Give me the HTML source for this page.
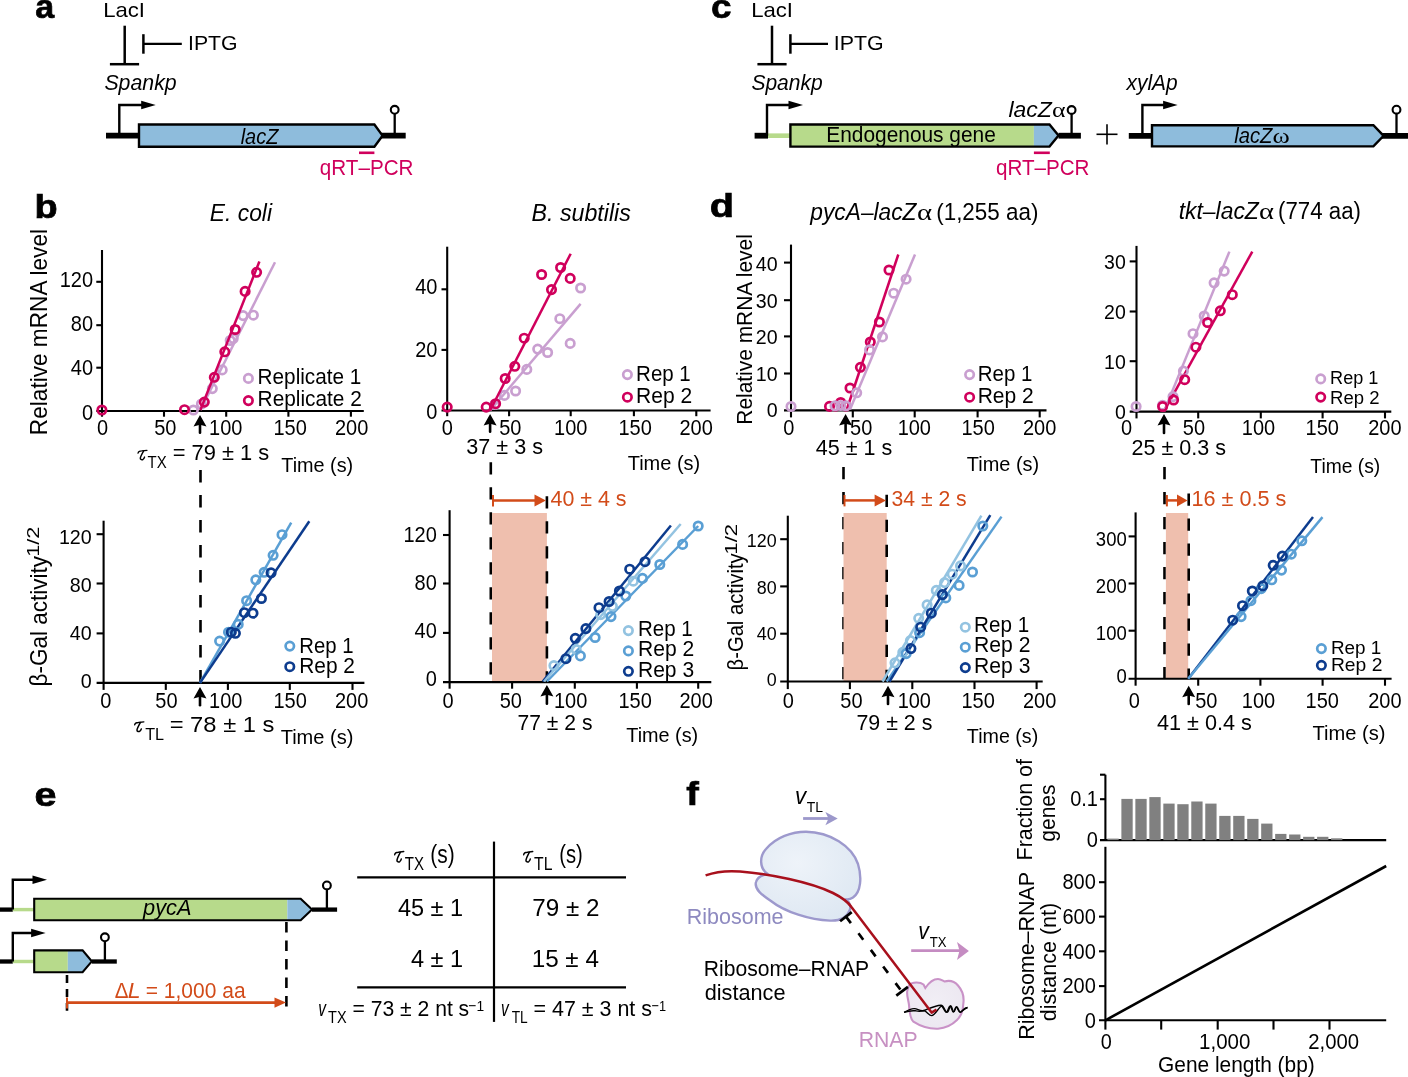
<!DOCTYPE html>
<html><head><meta charset="utf-8"><title>Figure</title>
<style>html,body{margin:0;padding:0;background:#fff;} svg{display:block;will-change:transform;}</style></head>
<body><svg width="1408" height="1077" viewBox="0 0 1408 1077">
<rect width="1408" height="1077" fill="#fff"/>
<text transform="translate(35.36 18.20) scale(1.029 1)" font-family="Liberation Sans" font-weight="bold" font-size="33" fill="#000" stroke="#000" stroke-width="0.7">a</text>
<text transform="translate(103.18 17.00) scale(1.1357 1.06)" font-family="Liberation Sans" font-size="19.50" fill="#000" >LacI</text>
<line x1="124.70" y1="25.70" x2="124.70" y2="63.50" stroke="#000" stroke-width="2.5" />
<line x1="109.90" y1="64.20" x2="139.10" y2="64.20" stroke="#000" stroke-width="2.5" />
<line x1="143.40" y1="34.20" x2="143.40" y2="53.70" stroke="#000" stroke-width="2.5" />
<line x1="143.40" y1="43.80" x2="181.80" y2="43.80" stroke="#000" stroke-width="2.3" />
<text transform="translate(188.04 50.00) scale(1.0888 1.06)" font-family="Liberation Sans" font-size="19.50" fill="#000" >IPTG</text>
<text transform="translate(104.40 89.50) scale(1.0397 1.06)" font-family="Liberation Sans" font-size="20.50" font-style="italic" fill="#000" >Spankp</text>
<line x1="106.00" y1="135.70" x2="405.70" y2="135.70" stroke="#000" stroke-width="5.8" />
<path d="M119.30,135.70 V105.00 H142.70" stroke="#000" stroke-width="2.4" fill="none" stroke-linejoin="miter"/>
<polygon points="141.20,100.70 155.70,105.00 141.20,109.30" fill="#000" stroke="none" stroke-width="0" />
<polygon points="139.00,124.50 374.40,124.50 382.50,135.65 374.40,146.80 139.00,146.80" fill="#8ebcdc" stroke="none" stroke-width="0" />
<polygon points="139.00,124.50 374.40,124.50 382.50,135.65 374.40,146.80 139.00,146.80" fill="none" stroke="#000" stroke-width="2.4" stroke-linejoin="miter"/>
<line x1="394.70" y1="135.70" x2="394.70" y2="113.80" stroke="#000" stroke-width="2.3" />
<circle cx="394.70" cy="109.80" r="3.90" stroke="#000" stroke-width="2.1" fill="#fff"/>
<text transform="translate(240.68 143.60) scale(0.9752 1.06)" font-family="Liberation Sans" font-size="20.50" font-style="italic" fill="#000" >lacZ</text>
<line x1="359.00" y1="152.80" x2="374.40" y2="152.80" stroke="#d0005c" stroke-width="2.6" />
<text transform="translate(319.83 174.50) scale(1.0076 1.06)" font-family="Liberation Sans" font-size="20.50" fill="#d0005c" >qRT–PCR</text>
<text transform="translate(710.91 18.20) scale(1.118 1)" font-family="Liberation Sans" font-weight="bold" font-size="33" fill="#000" stroke="#000" stroke-width="0.7">c</text>
<text transform="translate(751.18 17.00) scale(1.1357 1.06)" font-family="Liberation Sans" font-size="19.50" fill="#000" >LacI</text>
<line x1="772.00" y1="25.70" x2="772.00" y2="63.50" stroke="#000" stroke-width="2.5" />
<line x1="757.40" y1="64.20" x2="786.60" y2="64.20" stroke="#000" stroke-width="2.5" />
<line x1="790.40" y1="34.20" x2="790.40" y2="53.70" stroke="#000" stroke-width="2.5" />
<line x1="790.40" y1="43.80" x2="828.00" y2="43.80" stroke="#000" stroke-width="2.3" />
<text transform="translate(833.73 50.00) scale(1.0959 1.06)" font-family="Liberation Sans" font-size="19.50" fill="#000" >IPTG</text>
<text transform="translate(751.40 89.50) scale(1.0251 1.06)" font-family="Liberation Sans" font-size="20.50" font-style="italic" fill="#000" >Spankp</text>
<line x1="754.60" y1="135.70" x2="768.00" y2="135.70" stroke="#000" stroke-width="5.8" />
<line x1="768.00" y1="135.70" x2="790.40" y2="135.70" stroke="#b7da8b" stroke-width="4.64" />
<line x1="1058.50" y1="135.70" x2="1080.90" y2="135.70" stroke="#000" stroke-width="5.8" />
<path d="M767.00,135.70 V105.00 H790.00" stroke="#000" stroke-width="2.4" fill="none" stroke-linejoin="miter"/>
<polygon points="788.50,100.70 803.00,105.00 788.50,109.30" fill="#000" stroke="none" stroke-width="0" />
<polygon points="790.40,124.50 1033.90,124.50 1033.90,146.60 790.40,146.60" fill="#b7da8b" stroke="none" stroke-width="0" />
<polygon points="1033.90,124.50 1049.50,124.50 1058.50,135.55 1049.50,146.60 1033.90,146.60" fill="#8ebcdc" stroke="none" stroke-width="0" />
<polygon points="790.40,124.50 1049.50,124.50 1058.50,135.55 1049.50,146.60 790.40,146.60" fill="none" stroke="#000" stroke-width="2.4" stroke-linejoin="miter"/>
<line x1="1071.60" y1="135.70" x2="1071.60" y2="114.00" stroke="#000" stroke-width="2.3" />
<circle cx="1071.60" cy="110.00" r="3.90" stroke="#000" stroke-width="2.1" fill="#fff"/>
<text transform="translate(826.29 141.60) scale(1.0193 1.06)" font-family="Liberation Sans" font-size="20.50" fill="#000" >Endogenous gene</text>
<text transform="translate(1008.43 116.80) scale(1.1214 1.06)" font-family="Liberation Sans" font-size="20.50" font-style="italic" fill="#000" >lacZ</text>
<text transform="translate(1052.01 116.80) scale(1.2332 1.0)" font-family="Liberation Serif" font-size="21.00" fill="#000" >α</text>
<line x1="1033.90" y1="152.80" x2="1049.80" y2="152.80" stroke="#d0005c" stroke-width="2.6" />
<text transform="translate(995.93 174.50) scale(1.0066 1.06)" font-family="Liberation Sans" font-size="20.50" fill="#d0005c" >qRT–PCR</text>
<line x1="1096.50" y1="134.30" x2="1117.50" y2="134.30" stroke="#000" stroke-width="1.6" />
<line x1="1107.00" y1="124.30" x2="1107.00" y2="144.50" stroke="#000" stroke-width="1.6" />
<text transform="translate(1126.54 89.80) scale(1.0201 1.06)" font-family="Liberation Sans" font-size="20.50" font-style="italic" fill="#000" >xylAp</text>
<line x1="1128.80" y1="135.90" x2="1410.00" y2="135.90" stroke="#000" stroke-width="5.8" />
<path d="M1142.40,135.90 V105.00 H1164.60" stroke="#000" stroke-width="2.4" fill="none" stroke-linejoin="miter"/>
<polygon points="1163.10,100.70 1177.60,105.00 1163.10,109.30" fill="#000" stroke="none" stroke-width="0" />
<polygon points="1152.00,125.20 1373.40,125.20 1383.60,135.80 1373.40,146.40 1152.00,146.40" fill="#8ebcdc" stroke="none" stroke-width="0" />
<polygon points="1152.00,125.20 1373.40,125.20 1383.60,135.80 1373.40,146.40 1152.00,146.40" fill="none" stroke="#000" stroke-width="2.4" stroke-linejoin="miter"/>
<line x1="1396.50" y1="135.90" x2="1396.50" y2="113.70" stroke="#000" stroke-width="2.3" />
<circle cx="1396.50" cy="109.70" r="3.90" stroke="#000" stroke-width="2.1" fill="#fff"/>
<text transform="translate(1234.17 142.60) scale(0.9880 1.06)" font-family="Liberation Sans" font-size="20.50" font-style="italic" fill="#000" >lacZ</text>
<text transform="translate(1272.48 142.60) scale(1.2478 1.0)" font-family="Liberation Serif" font-size="21.00" fill="#000" >ω</text>
<text transform="translate(34.55 217.90) scale(1.149 1)" font-family="Liberation Sans" font-weight="bold" font-size="33" fill="#000" stroke="#000" stroke-width="0.7">b</text>
<text transform="translate(709.72 217.30) scale(1.203 1)" font-family="Liberation Sans" font-weight="bold" font-size="33" fill="#000" stroke="#000" stroke-width="0.7">d</text>
<text transform="translate(209.80 221.30) scale(1.0381 1.06)" font-family="Liberation Sans" font-size="22.00" font-style="italic" fill="#000" >E. coli</text>
<text transform="translate(531.49 221.30) scale(1.0557 1.06)" font-family="Liberation Sans" font-size="22.00" font-style="italic" fill="#000" >B. subtilis</text>
<text transform="translate(810.37 219.50) scale(1.0340 1.06)" font-family="Liberation Sans" font-size="22.00" font-style="italic" fill="#000" >pycA–lacZ</text>
<text transform="translate(917.01 219.50) scale(1.2757 1.0)" font-family="Liberation Serif" font-size="22.50" fill="#000" >α</text>
<text transform="translate(936.21 219.50) scale(1.0189 1.06)" font-family="Liberation Sans" font-size="22.00" fill="#000" >(1,255 aa)</text>
<text transform="translate(1178.66 219.40) scale(1.0413 1.06)" font-family="Liberation Sans" font-size="22.00" font-style="italic" fill="#000" >tkt–lacZ</text>
<text transform="translate(1259.12 219.40) scale(1.2661 1.0)" font-family="Liberation Serif" font-size="22.50" fill="#000" >α</text>
<text transform="translate(1278.02 219.40) scale(1.0125 1.06)" font-family="Liberation Sans" font-size="22.00" fill="#000" >(774 aa)</text>
<line x1="102.00" y1="250.00" x2="102.00" y2="416.70" stroke="#000" stroke-width="2.1" />
<line x1="96.30" y1="411.00" x2="363.80" y2="411.00" stroke="#000" stroke-width="2.1" />
<line x1="164.00" y1="411.00" x2="164.00" y2="416.70" stroke="#000" stroke-width="2.1" />
<line x1="226.20" y1="411.00" x2="226.20" y2="416.70" stroke="#000" stroke-width="2.1" />
<line x1="288.40" y1="411.00" x2="288.40" y2="416.70" stroke="#000" stroke-width="2.1" />
<line x1="350.90" y1="411.00" x2="350.90" y2="416.70" stroke="#000" stroke-width="2.1" />
<line x1="96.30" y1="281.80" x2="102.00" y2="281.80" stroke="#000" stroke-width="2.1" />
<line x1="96.30" y1="325.20" x2="102.00" y2="325.20" stroke="#000" stroke-width="2.1" />
<line x1="96.30" y1="367.70" x2="102.00" y2="367.70" stroke="#000" stroke-width="2.1" />
<text transform="translate(96.94 435.40) scale(1 1.06)" font-family="Liberation Sans" font-size="20.00" fill="#000" >0</text>
<text transform="translate(154.17 435.40) scale(1 1.06)" font-family="Liberation Sans" font-size="20.00" fill="#000" >50</text>
<text transform="translate(209.04 435.40) scale(1 1.06)" font-family="Liberation Sans" font-size="20.00" fill="#000" >100</text>
<text transform="translate(273.44 435.40) scale(1 1.06)" font-family="Liberation Sans" font-size="20.00" fill="#000" >150</text>
<text transform="translate(335.00 435.40) scale(1 1.06)" font-family="Liberation Sans" font-size="20.00" fill="#000" >200</text>
<text transform="translate(59.71 286.58) scale(1 1.06)" font-family="Liberation Sans" font-size="20.00" fill="#000" >120</text>
<text transform="translate(70.84 331.18) scale(1 1.06)" font-family="Liberation Sans" font-size="20.00" fill="#000" >80</text>
<text transform="translate(70.84 375.18) scale(1 1.06)" font-family="Liberation Sans" font-size="20.00" fill="#000" >40</text>
<text transform="translate(81.96 420.28) scale(1 1.06)" font-family="Liberation Sans" font-size="20.00" fill="#000" >0</text>
<text transform="translate(46.90 433.30) rotate(-90) scale(1.0012 1.06)" x="-1.85" y="0" font-family="Liberation Sans" font-size="22.60" fill="#000" >Relative mRNA level</text>
<line x1="200.40" y1="410.00" x2="275.00" y2="262.30" stroke="#c99fd0" stroke-width="2.5" />
<circle cx="193.40" cy="410.00" r="4.20" stroke="#c99fd0" stroke-width="2.7" fill="none"/>
<circle cx="201.40" cy="404.00" r="4.20" stroke="#c99fd0" stroke-width="2.7" fill="none"/>
<circle cx="212.30" cy="388.60" r="4.20" stroke="#c99fd0" stroke-width="2.7" fill="none"/>
<circle cx="222.20" cy="369.90" r="4.20" stroke="#c99fd0" stroke-width="2.7" fill="none"/>
<circle cx="230.20" cy="340.50" r="4.20" stroke="#c99fd0" stroke-width="2.7" fill="none"/>
<circle cx="233.20" cy="338.50" r="4.20" stroke="#c99fd0" stroke-width="2.7" fill="none"/>
<circle cx="243.10" cy="315.60" r="4.20" stroke="#c99fd0" stroke-width="2.7" fill="none"/>
<circle cx="253.40" cy="315.20" r="4.20" stroke="#c99fd0" stroke-width="2.7" fill="none"/>
<line x1="200.40" y1="410.00" x2="259.40" y2="261.50" stroke="#d0005c" stroke-width="2.5" />
<circle cx="101.90" cy="410.00" r="4.20" stroke="#d0005c" stroke-width="2.7" fill="none"/>
<circle cx="184.50" cy="409.70" r="4.20" stroke="#d0005c" stroke-width="2.7" fill="none"/>
<circle cx="204.30" cy="402.10" r="4.20" stroke="#d0005c" stroke-width="2.7" fill="none"/>
<circle cx="214.30" cy="377.30" r="4.20" stroke="#d0005c" stroke-width="2.7" fill="none"/>
<circle cx="224.80" cy="351.80" r="4.20" stroke="#d0005c" stroke-width="2.7" fill="none"/>
<circle cx="235.20" cy="329.50" r="4.20" stroke="#d0005c" stroke-width="2.7" fill="none"/>
<circle cx="245.10" cy="291.40" r="4.20" stroke="#d0005c" stroke-width="2.7" fill="none"/>
<circle cx="256.60" cy="272.30" r="4.20" stroke="#d0005c" stroke-width="2.7" fill="none"/>
<circle cx="248.40" cy="378.40" r="4.20" stroke="#c99fd0" stroke-width="2.7" fill="none"/>
<text transform="translate(257.60 384.00) scale(1.0375 1.06)" font-family="Liberation Sans" font-size="20.00" fill="#000" >Replicate 1</text>
<circle cx="248.40" cy="400.60" r="4.20" stroke="#d0005c" stroke-width="2.7" fill="none"/>
<text transform="translate(257.59 406.00) scale(1.0420 1.06)" font-family="Liberation Sans" font-size="20.00" fill="#000" >Replicate 2</text>
<line x1="200.00" y1="423.00" x2="200.00" y2="432.70" stroke="#000" stroke-width="2.6" stroke-linecap="round"/>
<polygon points="200.00,415.00 206.50,426.50 200.00,424.80 193.50,426.50" fill="#000" stroke="none" stroke-width="0" />
<path d="M138.00,453.24 C138.29,451.56 139.82,450.97 141.64,450.97 L147.00,450.30" stroke="#000" stroke-width="1.23" fill="none" stroke-linecap="round"/>
<path d="M143.55,451.05 C142.11,453.57 140.49,456.50 140.29,458.19 C140.21,459.70 142.11,459.95 143.08,459.28 C143.84,458.69 144.32,457.86 144.51,457.10" stroke="#000" stroke-width="1.45" fill="none" stroke-linecap="round"/>
<text transform="translate(147.56 467.90) scale(0.9669 1.06)" font-family="Liberation Sans" font-size="15.50" fill="#000" >TX</text>
<text transform="translate(172.73 459.90) scale(1.0674 1.06)" font-family="Liberation Sans" font-size="20.50" fill="#000" >= 79 ± 1 s</text>
<text transform="translate(281.25 471.80) scale(1.0128 1.06)" font-family="Liberation Sans" font-size="19.60" fill="#000" >Time (s)</text>
<line x1="200.50" y1="470.10" x2="200.50" y2="683.00" stroke="#000" stroke-width="2.6" stroke-dasharray="12.3 12.7"/>
<line x1="103.60" y1="520.70" x2="103.60" y2="689.90" stroke="#000" stroke-width="2.1" />
<line x1="96.60" y1="682.90" x2="364.40" y2="682.90" stroke="#000" stroke-width="2.1" />
<line x1="165.80" y1="682.90" x2="165.80" y2="689.90" stroke="#000" stroke-width="2.1" />
<line x1="227.90" y1="682.90" x2="227.90" y2="689.90" stroke="#000" stroke-width="2.1" />
<line x1="289.80" y1="682.90" x2="289.80" y2="689.90" stroke="#000" stroke-width="2.1" />
<line x1="352.50" y1="682.90" x2="352.50" y2="689.90" stroke="#000" stroke-width="2.1" />
<line x1="96.60" y1="534.20" x2="103.60" y2="534.20" stroke="#000" stroke-width="2.1" />
<line x1="96.60" y1="583.50" x2="103.60" y2="583.50" stroke="#000" stroke-width="2.1" />
<line x1="96.60" y1="633.40" x2="103.60" y2="633.40" stroke="#000" stroke-width="2.1" />
<text transform="translate(100.34 708.10) scale(1 1.06)" font-family="Liberation Sans" font-size="20.00" fill="#000" >0</text>
<text transform="translate(155.27 708.10) scale(1 1.06)" font-family="Liberation Sans" font-size="20.00" fill="#000" >50</text>
<text transform="translate(209.04 708.10) scale(1 1.06)" font-family="Liberation Sans" font-size="20.00" fill="#000" >100</text>
<text transform="translate(273.44 708.10) scale(1 1.06)" font-family="Liberation Sans" font-size="20.00" fill="#000" >150</text>
<text transform="translate(335.00 708.10) scale(1 1.06)" font-family="Liberation Sans" font-size="20.00" fill="#000" >200</text>
<text transform="translate(58.90 544.07) scale(1 1.06)" font-family="Liberation Sans" font-size="19.70" fill="#000" >120</text>
<text transform="translate(69.86 591.77) scale(1 1.06)" font-family="Liberation Sans" font-size="19.70" fill="#000" >80</text>
<text transform="translate(69.86 640.27) scale(1 1.06)" font-family="Liberation Sans" font-size="19.70" fill="#000" >40</text>
<text transform="translate(80.81 688.37) scale(1 1.06)" font-family="Liberation Sans" font-size="19.70" fill="#000" >0</text>
<text transform="translate(46.90 684.90) rotate(-90) scale(1.0003 1.06)" x="-1.56" y="0" font-family="Liberation Sans" font-size="22.50" fill="#000" >β-Gal activity</text>
<text transform="translate(38.60 555.00) rotate(-90) scale(1.3502 1.06)" x="-1.22" y="0" font-family="Liberation Sans" font-size="16.00" fill="#000" >1/2</text>
<line x1="200.00" y1="682.90" x2="291.20" y2="522.70" stroke="#5a9fd4" stroke-width="2.5" />
<line x1="200.00" y1="682.90" x2="309.30" y2="521.30" stroke="#0d3c8e" stroke-width="2.5" />
<circle cx="219.60" cy="641.10" r="4.20" stroke="#5a9fd4" stroke-width="2.7" fill="none"/>
<circle cx="228.50" cy="632.20" r="4.20" stroke="#5a9fd4" stroke-width="2.7" fill="none"/>
<circle cx="238.20" cy="624.40" r="4.20" stroke="#5a9fd4" stroke-width="2.7" fill="none"/>
<circle cx="246.60" cy="600.70" r="4.20" stroke="#5a9fd4" stroke-width="2.7" fill="none"/>
<circle cx="255.80" cy="579.80" r="4.20" stroke="#5a9fd4" stroke-width="2.7" fill="none"/>
<circle cx="264.10" cy="572.30" r="4.20" stroke="#5a9fd4" stroke-width="2.7" fill="none"/>
<circle cx="273.10" cy="555.30" r="4.20" stroke="#5a9fd4" stroke-width="2.7" fill="none"/>
<circle cx="282.00" cy="534.70" r="4.20" stroke="#5a9fd4" stroke-width="2.7" fill="none"/>
<circle cx="231.30" cy="632.20" r="4.20" stroke="#0d3c8e" stroke-width="2.7" fill="none"/>
<circle cx="235.40" cy="633.30" r="4.20" stroke="#0d3c8e" stroke-width="2.7" fill="none"/>
<circle cx="244.40" cy="612.70" r="4.20" stroke="#0d3c8e" stroke-width="2.7" fill="none"/>
<circle cx="253.00" cy="613.20" r="4.20" stroke="#0d3c8e" stroke-width="2.7" fill="none"/>
<circle cx="261.40" cy="598.50" r="4.20" stroke="#0d3c8e" stroke-width="2.7" fill="none"/>
<circle cx="271.10" cy="572.80" r="4.20" stroke="#0d3c8e" stroke-width="2.7" fill="none"/>
<circle cx="289.80" cy="646.10" r="4.20" stroke="#5a9fd4" stroke-width="2.7" fill="none"/>
<text transform="translate(299.23 652.80) scale(1.0167 1.06)" font-family="Liberation Sans" font-size="20.00" fill="#000" >Rep 1</text>
<circle cx="289.80" cy="666.70" r="4.20" stroke="#0d3c8e" stroke-width="2.7" fill="none"/>
<text transform="translate(299.19 673.40) scale(1.0449 1.06)" font-family="Liberation Sans" font-size="20.00" fill="#000" >Rep 2</text>
<line x1="200.00" y1="695.00" x2="200.00" y2="705.30" stroke="#000" stroke-width="2.6" stroke-linecap="round"/>
<polygon points="200.00,687.00 206.50,698.50 200.00,696.80 193.50,698.50" fill="#000" stroke="none" stroke-width="0" />
<path d="M134.60,724.87 C134.90,723.11 136.48,722.50 138.36,722.50 L143.90,721.80" stroke="#000" stroke-width="1.27" fill="none" stroke-linecap="round"/>
<path d="M140.34,722.58 C138.85,725.21 137.18,728.27 136.97,730.02 C136.88,731.60 138.85,731.86 139.85,731.16 C140.64,730.55 141.13,729.68 141.32,728.89" stroke="#000" stroke-width="1.50" fill="none" stroke-linecap="round"/>
<text transform="translate(145.14 739.60) scale(1.0123 1.06)" font-family="Liberation Sans" font-size="16.00" fill="#000" >TL</text>
<text transform="translate(169.64 732.00) scale(1.1059 1.06)" font-family="Liberation Sans" font-size="21.50" fill="#000" >= 78 ± 1 s</text>
<text transform="translate(280.65 744.20) scale(1.0139 1.06)" font-family="Liberation Sans" font-size="19.80" fill="#000" >Time (s)</text>
<line x1="447.20" y1="246.70" x2="447.20" y2="416.20" stroke="#000" stroke-width="2.1" />
<line x1="441.50" y1="410.50" x2="710.60" y2="410.50" stroke="#000" stroke-width="2.1" />
<line x1="509.10" y1="410.50" x2="509.10" y2="416.20" stroke="#000" stroke-width="2.1" />
<line x1="570.70" y1="410.50" x2="570.70" y2="416.20" stroke="#000" stroke-width="2.1" />
<line x1="633.90" y1="410.50" x2="633.90" y2="416.20" stroke="#000" stroke-width="2.1" />
<line x1="696.30" y1="410.50" x2="696.30" y2="416.20" stroke="#000" stroke-width="2.1" />
<line x1="441.50" y1="289.30" x2="447.20" y2="289.30" stroke="#000" stroke-width="2.1" />
<line x1="441.50" y1="349.90" x2="447.20" y2="349.90" stroke="#000" stroke-width="2.1" />
<text transform="translate(441.74 435.40) scale(1 1.06)" font-family="Liberation Sans" font-size="20.00" fill="#000" >0</text>
<text transform="translate(499.17 435.40) scale(1 1.06)" font-family="Liberation Sans" font-size="20.00" fill="#000" >50</text>
<text transform="translate(554.04 435.40) scale(1 1.06)" font-family="Liberation Sans" font-size="20.00" fill="#000" >100</text>
<text transform="translate(618.44 435.40) scale(1 1.06)" font-family="Liberation Sans" font-size="20.00" fill="#000" >150</text>
<text transform="translate(679.40 435.40) scale(1 1.06)" font-family="Liberation Sans" font-size="20.00" fill="#000" >200</text>
<text transform="translate(415.24 294.38) scale(1 1.06)" font-family="Liberation Sans" font-size="20.00" fill="#000" >40</text>
<text transform="translate(415.24 357.28) scale(1 1.06)" font-family="Liberation Sans" font-size="20.00" fill="#000" >20</text>
<text transform="translate(426.36 419.18) scale(1 1.06)" font-family="Liberation Sans" font-size="20.00" fill="#000" >0</text>
<line x1="490.10" y1="410.50" x2="580.60" y2="303.90" stroke="#c99fd0" stroke-width="2.5" />
<circle cx="494.80" cy="404.50" r="4.20" stroke="#c99fd0" stroke-width="2.7" fill="none"/>
<circle cx="504.40" cy="395.40" r="4.20" stroke="#c99fd0" stroke-width="2.7" fill="none"/>
<circle cx="515.60" cy="391.00" r="4.20" stroke="#c99fd0" stroke-width="2.7" fill="none"/>
<circle cx="526.80" cy="369.40" r="4.20" stroke="#c99fd0" stroke-width="2.7" fill="none"/>
<circle cx="537.70" cy="349.10" r="4.20" stroke="#c99fd0" stroke-width="2.7" fill="none"/>
<circle cx="547.60" cy="352.50" r="4.20" stroke="#c99fd0" stroke-width="2.7" fill="none"/>
<circle cx="559.80" cy="318.70" r="4.20" stroke="#c99fd0" stroke-width="2.7" fill="none"/>
<circle cx="570.20" cy="343.40" r="4.20" stroke="#c99fd0" stroke-width="2.7" fill="none"/>
<circle cx="580.60" cy="288.00" r="4.20" stroke="#c99fd0" stroke-width="2.7" fill="none"/>
<line x1="490.10" y1="410.50" x2="570.70" y2="253.70" stroke="#d0005c" stroke-width="2.5" />
<circle cx="447.20" cy="407.10" r="4.20" stroke="#d0005c" stroke-width="2.7" fill="none"/>
<circle cx="486.20" cy="407.10" r="4.20" stroke="#d0005c" stroke-width="2.7" fill="none"/>
<circle cx="495.60" cy="403.70" r="4.20" stroke="#d0005c" stroke-width="2.7" fill="none"/>
<circle cx="505.20" cy="378.50" r="4.20" stroke="#d0005c" stroke-width="2.7" fill="none"/>
<circle cx="514.80" cy="366.30" r="4.20" stroke="#d0005c" stroke-width="2.7" fill="none"/>
<circle cx="524.20" cy="338.20" r="4.20" stroke="#d0005c" stroke-width="2.7" fill="none"/>
<circle cx="541.60" cy="274.50" r="4.20" stroke="#d0005c" stroke-width="2.7" fill="none"/>
<circle cx="551.50" cy="289.60" r="4.20" stroke="#d0005c" stroke-width="2.7" fill="none"/>
<circle cx="560.60" cy="267.50" r="4.20" stroke="#d0005c" stroke-width="2.7" fill="none"/>
<circle cx="570.20" cy="278.40" r="4.20" stroke="#d0005c" stroke-width="2.7" fill="none"/>
<circle cx="627.40" cy="374.60" r="4.20" stroke="#c99fd0" stroke-width="2.7" fill="none"/>
<text transform="translate(636.12 381.00) scale(1.0246 1.06)" font-family="Liberation Sans" font-size="20.00" fill="#000" >Rep 1</text>
<circle cx="627.40" cy="397.20" r="4.20" stroke="#d0005c" stroke-width="2.7" fill="none"/>
<text transform="translate(636.08 403.20) scale(1.0508 1.06)" font-family="Liberation Sans" font-size="20.00" fill="#000" >Rep 2</text>
<line x1="490.10" y1="422.00" x2="490.10" y2="431.70" stroke="#000" stroke-width="2.6" stroke-linecap="round"/>
<polygon points="490.10,414.00 496.60,425.50 490.10,423.80 483.60,425.50" fill="#000" stroke="none" stroke-width="0" />
<text transform="translate(466.28 454.00) scale(1.0300 1.06)" font-family="Liberation Sans" font-size="21.00" fill="#000" >37 ± 3 s</text>
<text transform="translate(627.65 470.00) scale(1.0214 1.06)" font-family="Liberation Sans" font-size="19.60" fill="#000" >Time (s)</text>
<line x1="490.80" y1="462.30" x2="490.80" y2="681.50" stroke="#000" stroke-width="2.6" stroke-dasharray="12.3 12.7"/>
<rect x="492.00" y="513.00" width="54.90" height="168.50" fill="#efbfae" />
<line x1="449.60" y1="510.20" x2="449.60" y2="688.70" stroke="#000" stroke-width="2.1" />
<line x1="443.00" y1="682.10" x2="711.30" y2="682.10" stroke="#000" stroke-width="2.1" />
<line x1="512.10" y1="682.10" x2="512.10" y2="688.70" stroke="#000" stroke-width="2.1" />
<line x1="574.80" y1="682.10" x2="574.80" y2="688.70" stroke="#000" stroke-width="2.1" />
<line x1="636.90" y1="682.10" x2="636.90" y2="688.70" stroke="#000" stroke-width="2.1" />
<line x1="698.20" y1="682.10" x2="698.20" y2="688.70" stroke="#000" stroke-width="2.1" />
<line x1="443.00" y1="535.00" x2="449.60" y2="535.00" stroke="#000" stroke-width="2.1" />
<line x1="443.00" y1="583.50" x2="449.60" y2="583.50" stroke="#000" stroke-width="2.1" />
<line x1="443.00" y1="632.90" x2="449.60" y2="632.90" stroke="#000" stroke-width="2.1" />
<text transform="translate(442.44 708.10) scale(1 1.06)" font-family="Liberation Sans" font-size="20.00" fill="#000" >0</text>
<text transform="translate(499.67 708.10) scale(1 1.06)" font-family="Liberation Sans" font-size="20.00" fill="#000" >50</text>
<text transform="translate(553.94 708.10) scale(1 1.06)" font-family="Liberation Sans" font-size="20.00" fill="#000" >100</text>
<text transform="translate(618.44 708.10) scale(1 1.06)" font-family="Liberation Sans" font-size="20.00" fill="#000" >150</text>
<text transform="translate(679.40 708.10) scale(1 1.06)" font-family="Liberation Sans" font-size="20.00" fill="#000" >200</text>
<text transform="translate(403.41 542.08) scale(1 1.06)" font-family="Liberation Sans" font-size="20.00" fill="#000" >120</text>
<text transform="translate(414.54 589.78) scale(1 1.06)" font-family="Liberation Sans" font-size="20.00" fill="#000" >80</text>
<text transform="translate(414.54 637.88) scale(1 1.06)" font-family="Liberation Sans" font-size="20.00" fill="#000" >40</text>
<text transform="translate(425.66 685.98) scale(1 1.06)" font-family="Liberation Sans" font-size="20.00" fill="#000" >0</text>
<line x1="546.90" y1="496.20" x2="546.90" y2="682.00" stroke="#000" stroke-width="2.6" stroke-dasharray="12.3 12.7"/>
<line x1="542.70" y1="681.50" x2="670.90" y2="525.50" stroke="#0d3c8e" stroke-width="2.5" />
<line x1="544.10" y1="681.50" x2="680.70" y2="524.00" stroke="#93c3e1" stroke-width="2.5" />
<line x1="546.90" y1="681.50" x2="698.20" y2="526.00" stroke="#5a9fd4" stroke-width="2.5" />
<circle cx="553.90" cy="665.60" r="4.20" stroke="#93c3e1" stroke-width="2.7" fill="none"/>
<circle cx="576.20" cy="649.50" r="4.20" stroke="#93c3e1" stroke-width="2.7" fill="none"/>
<circle cx="600.70" cy="614.60" r="4.20" stroke="#93c3e1" stroke-width="2.7" fill="none"/>
<circle cx="612.40" cy="606.30" r="4.20" stroke="#93c3e1" stroke-width="2.7" fill="none"/>
<circle cx="633.30" cy="581.20" r="4.20" stroke="#93c3e1" stroke-width="2.7" fill="none"/>
<circle cx="580.40" cy="655.90" r="4.20" stroke="#5a9fd4" stroke-width="2.7" fill="none"/>
<circle cx="595.10" cy="637.50" r="4.20" stroke="#5a9fd4" stroke-width="2.7" fill="none"/>
<circle cx="611.00" cy="616.60" r="4.20" stroke="#5a9fd4" stroke-width="2.7" fill="none"/>
<circle cx="625.80" cy="596.00" r="4.20" stroke="#5a9fd4" stroke-width="2.7" fill="none"/>
<circle cx="642.50" cy="578.40" r="4.20" stroke="#5a9fd4" stroke-width="2.7" fill="none"/>
<circle cx="659.80" cy="564.50" r="4.20" stroke="#5a9fd4" stroke-width="2.7" fill="none"/>
<circle cx="682.60" cy="544.40" r="4.20" stroke="#5a9fd4" stroke-width="2.7" fill="none"/>
<circle cx="698.20" cy="526.00" r="4.20" stroke="#5a9fd4" stroke-width="2.7" fill="none"/>
<circle cx="565.90" cy="658.70" r="4.20" stroke="#0d3c8e" stroke-width="2.7" fill="none"/>
<circle cx="575.30" cy="638.30" r="4.20" stroke="#0d3c8e" stroke-width="2.7" fill="none"/>
<circle cx="585.90" cy="628.60" r="4.20" stroke="#0d3c8e" stroke-width="2.7" fill="none"/>
<circle cx="599.00" cy="607.70" r="4.20" stroke="#0d3c8e" stroke-width="2.7" fill="none"/>
<circle cx="609.10" cy="601.50" r="4.20" stroke="#0d3c8e" stroke-width="2.7" fill="none"/>
<circle cx="619.40" cy="591.00" r="4.20" stroke="#0d3c8e" stroke-width="2.7" fill="none"/>
<circle cx="629.70" cy="569.20" r="4.20" stroke="#0d3c8e" stroke-width="2.7" fill="none"/>
<circle cx="645.00" cy="561.70" r="4.20" stroke="#0d3c8e" stroke-width="2.7" fill="none"/>
<circle cx="628.40" cy="630.60" r="4.20" stroke="#93c3e1" stroke-width="2.7" fill="none"/>
<text transform="translate(638.02 635.50) scale(1.0266 1.06)" font-family="Liberation Sans" font-size="20.00" fill="#000" >Rep 1</text>
<circle cx="628.40" cy="650.90" r="4.20" stroke="#5a9fd4" stroke-width="2.7" fill="none"/>
<text transform="translate(637.97 656.40) scale(1.0548 1.06)" font-family="Liberation Sans" font-size="20.00" fill="#000" >Rep 2</text>
<circle cx="628.40" cy="671.30" r="4.20" stroke="#0d3c8e" stroke-width="2.7" fill="none"/>
<text transform="translate(637.97 676.80) scale(1.0521 1.06)" font-family="Liberation Sans" font-size="20.00" fill="#000" >Rep 3</text>
<line x1="546.90" y1="693.00" x2="546.90" y2="703.70" stroke="#000" stroke-width="2.6" stroke-linecap="round"/>
<polygon points="546.90,685.00 553.40,696.50 546.90,694.80 540.40,696.50" fill="#000" stroke="none" stroke-width="0" />
<text transform="translate(517.52 729.70) scale(1.0051 1.06)" font-family="Liberation Sans" font-size="21.00" fill="#000" >77 ± 2 s</text>
<text transform="translate(626.25 742.10) scale(1.0026 1.06)" font-family="Liberation Sans" font-size="19.80" fill="#000" >Time (s)</text>
<line x1="493.00" y1="495.00" x2="493.00" y2="506.40" stroke="#d24b19" stroke-width="2" />
<line x1="493.00" y1="500.40" x2="535.50" y2="500.40" stroke="#d24b19" stroke-width="2.5" />
<polygon points="534.50,494.40 545.90,500.40 534.50,506.40" fill="#d24b19" stroke="none" stroke-width="0" />
<text transform="translate(550.51 506.30) scale(1.0201 1.06)" font-family="Liberation Sans" font-size="21.00" fill="#d24b19" >40 ± 4 s</text>
<line x1="791.00" y1="244.60" x2="791.00" y2="417.40" stroke="#000" stroke-width="2.1" />
<line x1="784.00" y1="410.40" x2="1046.50" y2="410.40" stroke="#000" stroke-width="2.1" />
<line x1="852.80" y1="410.40" x2="852.80" y2="417.40" stroke="#000" stroke-width="2.1" />
<line x1="914.70" y1="410.40" x2="914.70" y2="417.40" stroke="#000" stroke-width="2.1" />
<line x1="977.60" y1="410.40" x2="977.60" y2="417.40" stroke="#000" stroke-width="2.1" />
<line x1="1039.70" y1="410.40" x2="1039.70" y2="417.40" stroke="#000" stroke-width="2.1" />
<line x1="784.00" y1="262.60" x2="791.00" y2="262.60" stroke="#000" stroke-width="2.1" />
<line x1="784.00" y1="300.20" x2="791.00" y2="300.20" stroke="#000" stroke-width="2.1" />
<line x1="784.00" y1="336.40" x2="791.00" y2="336.40" stroke="#000" stroke-width="2.1" />
<line x1="784.00" y1="373.50" x2="791.00" y2="373.50" stroke="#000" stroke-width="2.1" />
<text transform="translate(783.34 435.40) scale(1 1.06)" font-family="Liberation Sans" font-size="20.00" fill="#000" >0</text>
<text transform="translate(850.07 435.40) scale(1 1.06)" font-family="Liberation Sans" font-size="20.00" fill="#000" >50</text>
<text transform="translate(897.64 435.40) scale(1 1.06)" font-family="Liberation Sans" font-size="20.00" fill="#000" >100</text>
<text transform="translate(961.44 435.40) scale(1 1.06)" font-family="Liberation Sans" font-size="20.00" fill="#000" >150</text>
<text transform="translate(1023.00 435.40) scale(1 1.06)" font-family="Liberation Sans" font-size="20.00" fill="#000" >200</text>
<text transform="translate(755.76 271.14) scale(1 1.06)" font-family="Liberation Sans" font-size="19.60" fill="#000" >40</text>
<text transform="translate(755.76 308.24) scale(1 1.06)" font-family="Liberation Sans" font-size="19.60" fill="#000" >30</text>
<text transform="translate(755.76 344.44) scale(1 1.06)" font-family="Liberation Sans" font-size="19.60" fill="#000" >20</text>
<text transform="translate(755.76 380.74) scale(1 1.06)" font-family="Liberation Sans" font-size="19.60" fill="#000" >10</text>
<text transform="translate(766.67 417.44) scale(1 1.06)" font-family="Liberation Sans" font-size="19.60" fill="#000" >0</text>
<text transform="translate(751.50 423.00) rotate(-90) scale(1.0009 1.06)" x="-1.71" y="0" font-family="Liberation Sans" font-size="20.90" fill="#000" >Relative mRNA level</text>
<line x1="846.80" y1="409.50" x2="898.30" y2="254.50" stroke="#d0005c" stroke-width="2.5" />
<circle cx="829.50" cy="406.40" r="4.20" stroke="#d0005c" stroke-width="2.7" fill="none"/>
<circle cx="835.50" cy="406.20" r="4.20" stroke="#d0005c" stroke-width="2.7" fill="none"/>
<circle cx="840.70" cy="402.50" r="4.20" stroke="#d0005c" stroke-width="2.7" fill="none"/>
<circle cx="845.90" cy="406.20" r="4.20" stroke="#d0005c" stroke-width="2.7" fill="none"/>
<circle cx="850.00" cy="388.00" r="4.20" stroke="#d0005c" stroke-width="2.7" fill="none"/>
<circle cx="860.40" cy="367.30" r="4.20" stroke="#d0005c" stroke-width="2.7" fill="none"/>
<circle cx="870.30" cy="342.00" r="4.20" stroke="#d0005c" stroke-width="2.7" fill="none"/>
<circle cx="879.40" cy="322.00" r="4.20" stroke="#d0005c" stroke-width="2.7" fill="none"/>
<circle cx="889.00" cy="270.00" r="4.20" stroke="#d0005c" stroke-width="2.7" fill="none"/>
<line x1="850.00" y1="409.50" x2="915.00" y2="254.50" stroke="#c99fd0" stroke-width="2.5" />
<circle cx="791.00" cy="406.50" r="4.20" stroke="#c99fd0" stroke-width="2.7" fill="none"/>
<circle cx="835.00" cy="405.80" r="4.20" stroke="#c99fd0" stroke-width="2.7" fill="none"/>
<circle cx="840.70" cy="405.50" r="4.20" stroke="#c99fd0" stroke-width="2.7" fill="none"/>
<circle cx="845.90" cy="405.80" r="4.20" stroke="#c99fd0" stroke-width="2.7" fill="none"/>
<circle cx="856.70" cy="392.80" r="4.20" stroke="#c99fd0" stroke-width="2.7" fill="none"/>
<circle cx="869.50" cy="349.90" r="4.20" stroke="#c99fd0" stroke-width="2.7" fill="none"/>
<circle cx="882.50" cy="336.90" r="4.20" stroke="#c99fd0" stroke-width="2.7" fill="none"/>
<circle cx="893.70" cy="293.20" r="4.20" stroke="#c99fd0" stroke-width="2.7" fill="none"/>
<circle cx="906.10" cy="279.20" r="4.20" stroke="#c99fd0" stroke-width="2.7" fill="none"/>
<circle cx="969.60" cy="374.60" r="4.20" stroke="#c99fd0" stroke-width="2.7" fill="none"/>
<text transform="translate(977.72 381.00) scale(1.0246 1.06)" font-family="Liberation Sans" font-size="20.00" fill="#000" >Rep 1</text>
<circle cx="969.60" cy="397.20" r="4.20" stroke="#d0005c" stroke-width="2.7" fill="none"/>
<text transform="translate(977.68 403.20) scale(1.0508 1.06)" font-family="Liberation Sans" font-size="20.00" fill="#000" >Rep 2</text>
<line x1="845.60" y1="422.00" x2="845.60" y2="432.70" stroke="#000" stroke-width="2.6" stroke-linecap="round"/>
<polygon points="845.60,414.00 852.10,425.50 845.60,423.80 839.10,425.50" fill="#000" stroke="none" stroke-width="0" />
<text transform="translate(815.81 455.20) scale(1.0256 1.06)" font-family="Liberation Sans" font-size="21.00" fill="#000" >45 ± 1 s</text>
<text transform="translate(966.85 471.10) scale(1.0185 1.06)" font-family="Liberation Sans" font-size="19.60" fill="#000" >Time (s)</text>
<line x1="843.50" y1="467.00" x2="843.50" y2="681.00" stroke="#000" stroke-width="2.6" stroke-dasharray="12.3 12.7"/>
<rect x="843.50" y="513.00" width="43.20" height="168.00" fill="#efbfae" />
<line x1="787.80" y1="515.70" x2="787.80" y2="689.10" stroke="#000" stroke-width="2.1" />
<line x1="780.20" y1="681.50" x2="1042.70" y2="681.50" stroke="#000" stroke-width="2.1" />
<line x1="849.90" y1="681.50" x2="849.90" y2="689.10" stroke="#000" stroke-width="2.1" />
<line x1="912.30" y1="681.50" x2="912.30" y2="689.10" stroke="#000" stroke-width="2.1" />
<line x1="974.50" y1="681.50" x2="974.50" y2="689.10" stroke="#000" stroke-width="2.1" />
<line x1="1036.60" y1="681.50" x2="1036.60" y2="689.10" stroke="#000" stroke-width="2.1" />
<line x1="780.20" y1="539.20" x2="787.80" y2="539.20" stroke="#000" stroke-width="2.1" />
<line x1="780.20" y1="586.40" x2="787.80" y2="586.40" stroke="#000" stroke-width="2.1" />
<line x1="780.20" y1="633.70" x2="787.80" y2="633.70" stroke="#000" stroke-width="2.1" />
<text transform="translate(782.74 708.10) scale(1 1.06)" font-family="Liberation Sans" font-size="20.00" fill="#000" >0</text>
<text transform="translate(840.27 708.10) scale(1 1.06)" font-family="Liberation Sans" font-size="20.00" fill="#000" >50</text>
<text transform="translate(897.64 708.10) scale(1 1.06)" font-family="Liberation Sans" font-size="20.00" fill="#000" >100</text>
<text transform="translate(961.44 708.10) scale(1 1.06)" font-family="Liberation Sans" font-size="20.00" fill="#000" >150</text>
<text transform="translate(1023.00 708.10) scale(1 1.06)" font-family="Liberation Sans" font-size="20.00" fill="#000" >200</text>
<text transform="translate(746.83 546.84) scale(1 1.06)" font-family="Liberation Sans" font-size="17.90" fill="#000" >120</text>
<text transform="translate(756.79 594.14) scale(1 1.06)" font-family="Liberation Sans" font-size="17.90" fill="#000" >80</text>
<text transform="translate(756.79 640.14) scale(1 1.06)" font-family="Liberation Sans" font-size="17.90" fill="#000" >40</text>
<text transform="translate(766.74 686.04) scale(1 1.06)" font-family="Liberation Sans" font-size="17.90" fill="#000" >0</text>
<text transform="translate(743.00 669.00) rotate(-90) scale(1.0001 1.06)" x="-1.40" y="0" font-family="Liberation Sans" font-size="20.20" fill="#000" >β-Gal activity</text>
<text transform="translate(736.80 553.00) rotate(-90) scale(1.4772 1.06)" x="-1.14" y="0" font-family="Liberation Sans" font-size="15.00" fill="#000" >1/2</text>
<line x1="886.70" y1="494.80" x2="886.70" y2="681.00" stroke="#000" stroke-width="2.6" stroke-dasharray="12.3 12.7"/>
<line x1="882.50" y1="681.50" x2="981.40" y2="515.70" stroke="#93c3e1" stroke-width="2.5" />
<line x1="886.70" y1="681.50" x2="1001.50" y2="516.60" stroke="#5a9fd4" stroke-width="2.5" />
<line x1="889.50" y1="681.50" x2="990.30" y2="515.20" stroke="#0d3c8e" stroke-width="2.5" />
<circle cx="895.00" cy="662.80" r="4.20" stroke="#93c3e1" stroke-width="2.7" fill="none"/>
<circle cx="902.80" cy="652.30" r="4.20" stroke="#93c3e1" stroke-width="2.7" fill="none"/>
<circle cx="910.40" cy="640.60" r="4.20" stroke="#93c3e1" stroke-width="2.7" fill="none"/>
<circle cx="918.70" cy="618.30" r="4.20" stroke="#93c3e1" stroke-width="2.7" fill="none"/>
<circle cx="927.10" cy="604.90" r="4.20" stroke="#93c3e1" stroke-width="2.7" fill="none"/>
<circle cx="936.30" cy="590.40" r="4.20" stroke="#93c3e1" stroke-width="2.7" fill="none"/>
<circle cx="944.60" cy="582.60" r="4.20" stroke="#93c3e1" stroke-width="2.7" fill="none"/>
<circle cx="952.20" cy="574.20" r="4.20" stroke="#93c3e1" stroke-width="2.7" fill="none"/>
<circle cx="960.50" cy="565.90" r="4.20" stroke="#93c3e1" stroke-width="2.7" fill="none"/>
<circle cx="906.20" cy="653.60" r="4.20" stroke="#5a9fd4" stroke-width="2.7" fill="none"/>
<circle cx="919.60" cy="632.70" r="4.20" stroke="#5a9fd4" stroke-width="2.7" fill="none"/>
<circle cx="945.80" cy="597.90" r="4.20" stroke="#5a9fd4" stroke-width="2.7" fill="none"/>
<circle cx="959.10" cy="585.40" r="4.20" stroke="#5a9fd4" stroke-width="2.7" fill="none"/>
<circle cx="972.50" cy="572.00" r="4.20" stroke="#5a9fd4" stroke-width="2.7" fill="none"/>
<circle cx="982.80" cy="526.00" r="4.20" stroke="#5a9fd4" stroke-width="2.7" fill="none"/>
<circle cx="910.90" cy="648.60" r="4.20" stroke="#0d3c8e" stroke-width="2.7" fill="none"/>
<circle cx="920.70" cy="627.20" r="4.20" stroke="#0d3c8e" stroke-width="2.7" fill="none"/>
<circle cx="931.30" cy="613.20" r="4.20" stroke="#0d3c8e" stroke-width="2.7" fill="none"/>
<circle cx="942.40" cy="594.60" r="4.20" stroke="#0d3c8e" stroke-width="2.7" fill="none"/>
<circle cx="965.30" cy="627.20" r="4.20" stroke="#93c3e1" stroke-width="2.7" fill="none"/>
<text transform="translate(974.11 632.20) scale(1.0325 1.06)" font-family="Liberation Sans" font-size="20.00" fill="#000" >Rep 1</text>
<circle cx="965.30" cy="647.20" r="4.20" stroke="#5a9fd4" stroke-width="2.7" fill="none"/>
<text transform="translate(974.06 652.30) scale(1.0587 1.06)" font-family="Liberation Sans" font-size="20.00" fill="#000" >Rep 2</text>
<circle cx="965.30" cy="667.60" r="4.20" stroke="#0d3c8e" stroke-width="2.7" fill="none"/>
<text transform="translate(974.07 673.20) scale(1.0561 1.06)" font-family="Liberation Sans" font-size="20.00" fill="#000" >Rep 3</text>
<line x1="888.00" y1="693.70" x2="888.00" y2="703.90" stroke="#000" stroke-width="2.6" stroke-linecap="round"/>
<polygon points="888.00,685.70 894.50,697.20 888.00,695.50 881.50,697.20" fill="#000" stroke="none" stroke-width="0" />
<text transform="translate(856.40 729.70) scale(1.0202 1.06)" font-family="Liberation Sans" font-size="21.00" fill="#000" >79 ± 2 s</text>
<text transform="translate(966.86 742.50) scale(0.9942 1.06)" font-family="Liberation Sans" font-size="19.80" fill="#000" >Time (s)</text>
<line x1="844.50" y1="495.00" x2="844.50" y2="506.40" stroke="#d24b19" stroke-width="2" />
<line x1="844.50" y1="500.40" x2="875.60" y2="500.40" stroke="#d24b19" stroke-width="2.5" />
<polygon points="874.60,494.40 886.00,500.40 874.60,506.40" fill="#d24b19" stroke="none" stroke-width="0" />
<text transform="translate(891.49 506.30) scale(1.0095 1.06)" font-family="Liberation Sans" font-size="21.00" fill="#d24b19" >34 ± 2 s</text>
<line x1="1136.50" y1="245.90" x2="1136.50" y2="418.40" stroke="#000" stroke-width="2.1" />
<line x1="1129.70" y1="411.60" x2="1391.30" y2="411.60" stroke="#000" stroke-width="2.1" />
<line x1="1198.20" y1="411.60" x2="1198.20" y2="418.40" stroke="#000" stroke-width="2.1" />
<line x1="1260.80" y1="411.60" x2="1260.80" y2="418.40" stroke="#000" stroke-width="2.1" />
<line x1="1322.60" y1="411.60" x2="1322.60" y2="418.40" stroke="#000" stroke-width="2.1" />
<line x1="1385.00" y1="411.60" x2="1385.00" y2="418.40" stroke="#000" stroke-width="2.1" />
<line x1="1129.70" y1="261.40" x2="1136.50" y2="261.40" stroke="#000" stroke-width="2.1" />
<line x1="1129.70" y1="311.50" x2="1136.50" y2="311.50" stroke="#000" stroke-width="2.1" />
<line x1="1129.70" y1="361.20" x2="1136.50" y2="361.20" stroke="#000" stroke-width="2.1" />
<text transform="translate(1120.94 435.00) scale(1 1.06)" font-family="Liberation Sans" font-size="20.00" fill="#000" >0</text>
<text transform="translate(1182.77 435.00) scale(1 1.06)" font-family="Liberation Sans" font-size="20.00" fill="#000" >50</text>
<text transform="translate(1241.84 435.00) scale(1 1.06)" font-family="Liberation Sans" font-size="20.00" fill="#000" >100</text>
<text transform="translate(1305.54 435.00) scale(1 1.06)" font-family="Liberation Sans" font-size="20.00" fill="#000" >150</text>
<text transform="translate(1368.20 435.00) scale(1 1.06)" font-family="Liberation Sans" font-size="20.00" fill="#000" >200</text>
<text transform="translate(1104.07 268.70) scale(1 1.06)" font-family="Liberation Sans" font-size="19.50" fill="#000" >30</text>
<text transform="translate(1104.07 319.20) scale(1 1.06)" font-family="Liberation Sans" font-size="19.50" fill="#000" >20</text>
<text transform="translate(1104.07 368.90) scale(1 1.06)" font-family="Liberation Sans" font-size="19.50" fill="#000" >10</text>
<text transform="translate(1114.92 419.00) scale(1 1.06)" font-family="Liberation Sans" font-size="19.50" fill="#000" >0</text>
<line x1="1164.00" y1="411.40" x2="1229.40" y2="251.60" stroke="#c99fd0" stroke-width="2.5" />
<line x1="1164.00" y1="411.40" x2="1252.30" y2="251.60" stroke="#d0005c" stroke-width="2.5" />
<circle cx="1136.10" cy="406.50" r="4.20" stroke="#c99fd0" stroke-width="2.7" fill="none"/>
<circle cx="1162.60" cy="405.20" r="4.20" stroke="#c99fd0" stroke-width="2.7" fill="none"/>
<circle cx="1173.00" cy="396.60" r="4.20" stroke="#c99fd0" stroke-width="2.7" fill="none"/>
<circle cx="1183.40" cy="371.10" r="4.20" stroke="#c99fd0" stroke-width="2.7" fill="none"/>
<circle cx="1193.00" cy="333.70" r="4.20" stroke="#c99fd0" stroke-width="2.7" fill="none"/>
<circle cx="1204.20" cy="316.00" r="4.20" stroke="#c99fd0" stroke-width="2.7" fill="none"/>
<circle cx="1214.10" cy="282.80" r="4.20" stroke="#c99fd0" stroke-width="2.7" fill="none"/>
<circle cx="1224.20" cy="271.10" r="4.20" stroke="#c99fd0" stroke-width="2.7" fill="none"/>
<circle cx="1162.60" cy="406.50" r="4.20" stroke="#d0005c" stroke-width="2.7" fill="none"/>
<circle cx="1173.60" cy="400.00" r="4.20" stroke="#d0005c" stroke-width="2.7" fill="none"/>
<circle cx="1184.70" cy="379.70" r="4.20" stroke="#d0005c" stroke-width="2.7" fill="none"/>
<circle cx="1195.90" cy="347.20" r="4.20" stroke="#d0005c" stroke-width="2.7" fill="none"/>
<circle cx="1207.60" cy="322.50" r="4.20" stroke="#d0005c" stroke-width="2.7" fill="none"/>
<circle cx="1220.30" cy="310.80" r="4.20" stroke="#d0005c" stroke-width="2.7" fill="none"/>
<circle cx="1232.30" cy="294.70" r="4.20" stroke="#d0005c" stroke-width="2.7" fill="none"/>
<circle cx="1320.70" cy="378.90" r="4.20" stroke="#c99fd0" stroke-width="2.7" fill="none"/>
<text transform="translate(1330.11 384.40) scale(1.0071 1.06)" font-family="Liberation Sans" font-size="18.00" fill="#000" >Rep 1</text>
<circle cx="1320.70" cy="397.10" r="4.20" stroke="#d0005c" stroke-width="2.7" fill="none"/>
<text transform="translate(1330.08 403.60) scale(1.0296 1.06)" font-family="Liberation Sans" font-size="18.00" fill="#000" >Rep 2</text>
<line x1="1164.00" y1="422.00" x2="1164.00" y2="433.00" stroke="#000" stroke-width="2.6" stroke-linecap="round"/>
<polygon points="1164.00,414.00 1170.50,425.50 1164.00,423.80 1157.50,425.50" fill="#000" stroke="none" stroke-width="0" />
<text transform="translate(1131.62 455.20) scale(1.0259 1.06)" font-family="Liberation Sans" font-size="21.00" fill="#000" >25 ± 0.3 s</text>
<text transform="translate(1310.37 473.10) scale(0.9829 1.06)" font-family="Liberation Sans" font-size="19.60" fill="#000" >Time (s)</text>
<line x1="1164.50" y1="467.00" x2="1164.50" y2="678.70" stroke="#000" stroke-width="2.6" stroke-dasharray="12.3 12.7"/>
<rect x="1165.90" y="513.00" width="22.30" height="165.70" fill="#efbfae" />
<line x1="1135.60" y1="512.40" x2="1135.60" y2="685.70" stroke="#000" stroke-width="2.1" />
<line x1="1128.60" y1="678.70" x2="1391.60" y2="678.70" stroke="#000" stroke-width="2.1" />
<line x1="1198.20" y1="678.70" x2="1198.20" y2="685.70" stroke="#000" stroke-width="2.1" />
<line x1="1260.40" y1="678.70" x2="1260.40" y2="685.70" stroke="#000" stroke-width="2.1" />
<line x1="1322.60" y1="678.70" x2="1322.60" y2="685.70" stroke="#000" stroke-width="2.1" />
<line x1="1385.00" y1="678.70" x2="1385.00" y2="685.70" stroke="#000" stroke-width="2.1" />
<line x1="1128.60" y1="536.40" x2="1135.60" y2="536.40" stroke="#000" stroke-width="2.1" />
<line x1="1128.60" y1="583.50" x2="1135.60" y2="583.50" stroke="#000" stroke-width="2.1" />
<line x1="1128.60" y1="630.70" x2="1135.60" y2="630.70" stroke="#000" stroke-width="2.1" />
<text transform="translate(1128.64 708.10) scale(1 1.06)" font-family="Liberation Sans" font-size="20.00" fill="#000" >0</text>
<text transform="translate(1195.17 708.10) scale(1 1.06)" font-family="Liberation Sans" font-size="20.00" fill="#000" >50</text>
<text transform="translate(1241.84 708.10) scale(1 1.06)" font-family="Liberation Sans" font-size="20.00" fill="#000" >100</text>
<text transform="translate(1305.54 708.10) scale(1 1.06)" font-family="Liberation Sans" font-size="20.00" fill="#000" >150</text>
<text transform="translate(1368.20 708.10) scale(1 1.06)" font-family="Liberation Sans" font-size="20.00" fill="#000" >200</text>
<text transform="translate(1095.86 545.75) scale(1 1.06)" font-family="Liberation Sans" font-size="18.50" fill="#000" >300</text>
<text transform="translate(1095.86 592.55) scale(1 1.06)" font-family="Liberation Sans" font-size="18.50" fill="#000" >200</text>
<text transform="translate(1095.86 639.85) scale(1 1.06)" font-family="Liberation Sans" font-size="18.50" fill="#000" >100</text>
<text transform="translate(1116.43 682.55) scale(1 1.06)" font-family="Liberation Sans" font-size="18.50" fill="#000" >0</text>
<line x1="1188.70" y1="493.40" x2="1188.70" y2="678.70" stroke="#000" stroke-width="2.6" stroke-dasharray="12.3 12.7"/>
<line x1="1188.20" y1="678.70" x2="1313.00" y2="517.10" stroke="#0d3c8e" stroke-width="2.5" />
<line x1="1188.20" y1="678.70" x2="1322.50" y2="517.10" stroke="#5a9fd4" stroke-width="2.5" />
<circle cx="1241.10" cy="616.60" r="4.20" stroke="#5a9fd4" stroke-width="2.7" fill="none"/>
<circle cx="1250.90" cy="600.70" r="4.20" stroke="#5a9fd4" stroke-width="2.7" fill="none"/>
<circle cx="1261.20" cy="588.70" r="4.20" stroke="#5a9fd4" stroke-width="2.7" fill="none"/>
<circle cx="1271.80" cy="579.80" r="4.20" stroke="#5a9fd4" stroke-width="2.7" fill="none"/>
<circle cx="1281.50" cy="570.10" r="4.20" stroke="#5a9fd4" stroke-width="2.7" fill="none"/>
<circle cx="1291.30" cy="554.20" r="4.20" stroke="#5a9fd4" stroke-width="2.7" fill="none"/>
<circle cx="1301.80" cy="540.80" r="4.20" stroke="#5a9fd4" stroke-width="2.7" fill="none"/>
<circle cx="1232.70" cy="620.20" r="4.20" stroke="#0d3c8e" stroke-width="2.7" fill="none"/>
<circle cx="1242.50" cy="605.70" r="4.20" stroke="#0d3c8e" stroke-width="2.7" fill="none"/>
<circle cx="1252.30" cy="591.00" r="4.20" stroke="#0d3c8e" stroke-width="2.7" fill="none"/>
<circle cx="1262.80" cy="585.90" r="4.20" stroke="#0d3c8e" stroke-width="2.7" fill="none"/>
<circle cx="1273.20" cy="565.30" r="4.20" stroke="#0d3c8e" stroke-width="2.7" fill="none"/>
<circle cx="1282.30" cy="556.10" r="4.20" stroke="#0d3c8e" stroke-width="2.7" fill="none"/>
<circle cx="1321.40" cy="648.60" r="4.20" stroke="#5a9fd4" stroke-width="2.7" fill="none"/>
<text transform="translate(1330.95 654.20) scale(1.0487 1.06)" font-family="Liberation Sans" font-size="18.00" fill="#000" >Rep 1</text>
<circle cx="1321.40" cy="665.30" r="4.20" stroke="#0d3c8e" stroke-width="2.7" fill="none"/>
<text transform="translate(1330.92 670.90) scale(1.0712 1.06)" font-family="Liberation Sans" font-size="18.00" fill="#000" >Rep 2</text>
<line x1="1188.70" y1="693.70" x2="1188.70" y2="703.90" stroke="#000" stroke-width="2.6" stroke-linecap="round"/>
<polygon points="1188.70,685.70 1195.20,697.20 1188.70,695.50 1182.20,697.20" fill="#000" stroke="none" stroke-width="0" />
<text transform="translate(1156.90 729.70) scale(1.0315 1.06)" font-family="Liberation Sans" font-size="21.00" fill="#000" >41 ± 0.4 s</text>
<text transform="translate(1312.45 740.00) scale(1.0167 1.06)" font-family="Liberation Sans" font-size="19.80" fill="#000" >Time (s)</text>
<line x1="1166.90" y1="495.00" x2="1166.90" y2="506.40" stroke="#d24b19" stroke-width="2" />
<line x1="1166.90" y1="500.40" x2="1178.00" y2="500.40" stroke="#d24b19" stroke-width="2.5" />
<polygon points="1177.00,494.40 1187.50,500.40 1177.00,506.40" fill="#d24b19" stroke="none" stroke-width="0" />
<text transform="translate(1191.55 506.30) scale(1.0310 1.06)" font-family="Liberation Sans" font-size="21.00" fill="#d24b19" >16 ± 0.5 s</text>
<text transform="translate(34.41 805.60) scale(1.199 1)" font-family="Liberation Sans" font-weight="bold" font-size="33" fill="#000" stroke="#000" stroke-width="0.7">e</text>
<line x1="0.00" y1="909.60" x2="12.80" y2="909.60" stroke="#000" stroke-width="4.3" />
<line x1="12.80" y1="909.60" x2="34.20" y2="909.60" stroke="#b7da8b" stroke-width="3.44" />
<line x1="312.00" y1="909.60" x2="337.10" y2="909.60" stroke="#000" stroke-width="4.3" />
<path d="M12.80,909.60 V879.70 H34.00" stroke="#000" stroke-width="2.4" fill="none" stroke-linejoin="miter"/>
<polygon points="32.50,875.40 47.00,879.70 32.50,884.00" fill="#000" stroke="none" stroke-width="0" />
<polygon points="34.20,898.80 287.30,898.80 287.30,920.20 34.20,920.20" fill="#b7da8b" stroke="none" stroke-width="0" />
<polygon points="287.30,898.80 300.70,898.80 312.00,909.50 300.70,920.20 287.30,920.20" fill="#8ebcdc" stroke="none" stroke-width="0" />
<polygon points="34.20,898.80 300.70,898.80 312.00,909.50 300.70,920.20 34.20,920.20" fill="none" stroke="#000" stroke-width="2.1" stroke-linejoin="miter"/>
<line x1="326.90" y1="909.60" x2="326.90" y2="889.40" stroke="#000" stroke-width="2.3" />
<circle cx="326.90" cy="885.40" r="3.90" stroke="#000" stroke-width="2.1" fill="#fff"/>
<text transform="translate(143.04 915.30) scale(1.0648 1.06)" font-family="Liberation Sans" font-size="20.50" font-style="italic" fill="#000" >pycA</text>
<line x1="0.00" y1="961.50" x2="12.80" y2="961.50" stroke="#000" stroke-width="4.3" />
<line x1="12.80" y1="961.50" x2="34.20" y2="961.50" stroke="#b7da8b" stroke-width="3.44" />
<line x1="91.80" y1="961.50" x2="116.80" y2="961.50" stroke="#000" stroke-width="4.3" />
<path d="M12.80,961.50 V933.00 H32.60" stroke="#000" stroke-width="2.4" fill="none" stroke-linejoin="miter"/>
<polygon points="31.10,928.70 45.60,933.00 31.10,937.30" fill="#000" stroke="none" stroke-width="0" />
<polygon points="34.20,950.40 67.80,950.40 67.80,972.30 34.20,972.30" fill="#b7da8b" stroke="none" stroke-width="0" />
<polygon points="67.80,950.40 82.60,950.40 91.80,961.35 82.60,972.30 67.80,972.30" fill="#8ebcdc" stroke="none" stroke-width="0" />
<polygon points="34.20,950.40 82.60,950.40 91.80,961.35 82.60,972.30 34.20,972.30" fill="none" stroke="#000" stroke-width="2.1" stroke-linejoin="miter"/>
<line x1="104.90" y1="961.50" x2="104.90" y2="941.30" stroke="#000" stroke-width="2.3" />
<circle cx="104.90" cy="937.30" r="3.90" stroke="#000" stroke-width="2.1" fill="#fff"/>
<line x1="67.00" y1="975.00" x2="67.00" y2="1010.80" stroke="#000" stroke-width="2.6" stroke-dasharray="8 6"/>
<line x1="286.40" y1="922.00" x2="286.40" y2="1010.80" stroke="#000" stroke-width="2.6" stroke-dasharray="10.5 8"/>
<line x1="67.00" y1="997.50" x2="67.00" y2="1008.50" stroke="#d24b19" stroke-width="2" />
<line x1="67.00" y1="1002.60" x2="276.00" y2="1002.60" stroke="#d24b19" stroke-width="2.6" />
<polygon points="274.50,997.50 286.00,1002.60 274.50,1007.70" fill="#d24b19" stroke="none" stroke-width="0" />
<text transform="translate(114.79 997.60) scale(1.0281 1.06)" font-family="Liberation Sans" font-size="20.00" fill="#d24b19" >Δ</text>
<text transform="translate(127.69 997.60) scale(1.1243 1.06)" font-family="Liberation Sans" font-size="20.50" font-style="italic" fill="#d24b19" >L</text>
<text transform="translate(145.77 997.60) scale(1.0242 1.06)" font-family="Liberation Sans" font-size="20.50" fill="#d24b19" >= 1,000 aa</text>
<line x1="494.00" y1="841.60" x2="494.00" y2="1021.90" stroke="#000" stroke-width="2.2" />
<line x1="357.20" y1="877.30" x2="626.00" y2="877.30" stroke="#000" stroke-width="2.2" />
<line x1="357.20" y1="987.30" x2="626.00" y2="987.30" stroke="#000" stroke-width="2.2" />
<path d="M394.60,854.79 C394.89,852.91 396.46,852.25 398.32,852.25 L403.80,851.50" stroke="#000" stroke-width="1.27" fill="none" stroke-linecap="round"/>
<path d="M400.28,852.34 C398.80,855.15 397.15,858.43 396.95,860.31 C396.85,862.00 398.80,862.28 399.79,861.53 C400.57,860.88 401.06,859.94 401.25,859.09" stroke="#000" stroke-width="1.50" fill="none" stroke-linecap="round"/>
<text transform="translate(404.86 869.70) scale(0.9132 1.06)" font-family="Liberation Sans" font-size="16.50" fill="#000" >TX</text>
<text transform="translate(430.30 862.80) scale(0.8903 1.06)" font-family="Liberation Sans" font-size="23.50" fill="#000" >(s)</text>
<path d="M523.60,854.79 C523.89,852.91 525.46,852.25 527.32,852.25 L532.80,851.50" stroke="#000" stroke-width="1.27" fill="none" stroke-linecap="round"/>
<path d="M529.28,852.34 C527.80,855.15 526.15,858.43 525.95,860.31 C525.85,862.00 527.80,862.28 528.79,861.53 C529.57,860.88 530.06,859.94 530.25,859.09" stroke="#000" stroke-width="1.50" fill="none" stroke-linecap="round"/>
<text transform="translate(534.05 869.70) scale(0.9544 1.06)" font-family="Liberation Sans" font-size="16.50" fill="#000" >TL</text>
<text transform="translate(559.24 862.80) scale(0.8617 1.06)" font-family="Liberation Sans" font-size="23.50" fill="#000" >(s)</text>
<text transform="translate(397.96 915.80) scale(1.0448 1.06)" font-family="Liberation Sans" font-size="22.50" fill="#000" >45 ± 1</text>
<text transform="translate(532.26 915.80) scale(1.0764 1.06)" font-family="Liberation Sans" font-size="22.50" fill="#000" >79 ± 2</text>
<text transform="translate(410.96 967.10) scale(1.0464 1.06)" font-family="Liberation Sans" font-size="22.50" fill="#000" >4 ± 1</text>
<text transform="translate(531.65 967.10) scale(1.0780 1.06)" font-family="Liberation Sans" font-size="22.50" fill="#000" >15 ± 4</text>
<text transform="translate(318.16 1015.60) scale(0.7705 1.06)" font-family="Liberation Sans" font-size="20.00" font-style="italic" fill="#000" >v</text>
<text transform="translate(328.07 1023.20) scale(0.9063 1.06)" font-family="Liberation Sans" font-size="16.00" fill="#000" >TX</text>
<text transform="translate(352.47 1015.60) scale(1.0571 1.06)" font-family="Liberation Sans" font-size="20.00" fill="#000" >= 73 ± 2 nt s</text>
<text transform="translate(468.32 1010.50) scale(0.9531 1.06)" font-family="Liberation Sans" font-size="14.50" fill="#000" >−1</text>
<text transform="translate(500.96 1015.60) scale(0.7705 1.06)" font-family="Liberation Sans" font-size="20.00" font-style="italic" fill="#000" >v</text>
<text transform="translate(511.69 1023.20) scale(0.8605 1.06)" font-family="Liberation Sans" font-size="16.00" fill="#000" >TL</text>
<text transform="translate(533.45 1015.60) scale(1.0736 1.06)" font-family="Liberation Sans" font-size="20.00" fill="#000" >= 47 ± 3 nt s</text>
<text transform="translate(651.47 1010.50) scale(0.8803 1.06)" font-family="Liberation Sans" font-size="14.50" fill="#000" >−1</text>
<text transform="translate(686.20 804.80) scale(1.144 1)" font-family="Liberation Sans" font-weight="bold" font-size="33" fill="#000" stroke="#000" stroke-width="0.7">f</text>
<text transform="translate(794.88 804.40) scale(0.9913 1.06)" font-family="Liberation Sans" font-size="22.50" font-style="italic" fill="#000" >v</text>
<text transform="translate(806.79 812.00) scale(0.9962 1.06)" font-family="Liberation Sans" font-size="14.00" fill="#000" >TL</text>
<line x1="803.10" y1="818.50" x2="829.00" y2="818.50" stroke="#9c98cb" stroke-width="2.8" />
<polygon points="825.40,812.00 837.70,818.50 825.40,825.30 828.50,818.50" fill="#9c98cb" stroke="none" stroke-width="0" />
<defs><radialGradient id="rg" cx="0.4" cy="0.35" r="0.75"><stop offset="0" stop-color="#eef3f9"/><stop offset="1" stop-color="#dde7f2"/></radialGradient><radialGradient id="rg2" cx="0.5" cy="0.45" r="0.7"><stop offset="0" stop-color="#f1eef5"/><stop offset="1" stop-color="#ebe6f0"/></radialGradient></defs>
<path d="M767.6,874.1 C759,868 759.5,856 766,849 C776,837 792,831.7 806,831.7 C830,832 852,846 858,864 C862,877 861,892 853,897.5 C850,899.5 847,899.5 845.2,899.1 C850,902 851,907 849.8,910 C847,918 840,921 830,920.6 C810,920 785,912 770.6,900.7 C762,895 754,889 756,882 C757,878 762,875 767.6,874.1 Z" stroke="#9d99cd" stroke-width="2.4" fill="url(#rg)" />
<text transform="translate(686.74 923.90) scale(1.0241 1.06)" font-family="Liberation Sans" font-size="21.00" fill="#8e8ac0" >Ribosome</text>
<path d="M909.7,984.5 C912,982 920,981.5 923.5,984.5 L925.3,988 C928,984 933,979 938,979 C941,979 943,981 944.5,981.5 C950,980 955,982 958,985.5 C962,990 964,996 963.5,1002 C963,1010 962,1015 957,1020 C952,1025 946,1028 938,1028.7 C930,1029 920,1026 913.4,1021.7 C910,1019 909.5,1012 909,1005 C908.5,1000 906,994 907.5,990 C908,987.5 909,985.5 909.7,984.5 Z" stroke="#c992c7" stroke-width="2.1" fill="url(#rg2)" />
<path d="M904.1,1012.3 C908,1010 911,1008.3 914.5,1008.6 C918,1009 920,1011.5 924,1010.5 C929,1008.5 935,1005.5 941,1005.2 C944,1005.2 945,1012.3 947,1012.3 C949,1012.3 949.5,1005.7 950.6,1005.7 C952,1005.7 952.5,1011.8 953.7,1011.8 C955,1011.8 955.5,1006.7 956.7,1006.7 C958,1006.7 959,1012.3 960.3,1012.3 C962,1012.3 963,1008 967.5,1007.5" stroke="#000" stroke-width="1.4" fill="none" />
<path d="M904.1,1012.3 C908,1011 912,1010.5 915.3,1010.8 C918.5,1011.3 920,1011.7 924,1010.5 C927,1011.5 929,1015.6 931.7,1015.6 C935,1015.6 938,1008 941.5,1006 C943,1006 944.5,1012.3 946.2,1012.3 C948,1012.3 948.5,1006.2 950,1006.2 C951.5,1006.2 952,1012 953.2,1012 C954.5,1012 955,1007 956.2,1007 C957.5,1007 958.5,1012.3 960,1012.3 C962,1012.3 963,1009 967.5,1007.5" stroke="#000" stroke-width="1.4" fill="none" />
<path d="M705.6,875.4 C715,872 728,870.5 740,871.5 C770,874 810,882 833,893 C842,897.5 848,902 851.6,907.2 L931.6,1012.6 L936.5,1009.6" stroke="#a8101c" stroke-width="2.5" fill="none" stroke-linejoin="round"/>
<line x1="846.10" y1="916.70" x2="900.90" y2="990.30" stroke="#000" stroke-width="2.7" stroke-dasharray="8 12.7"/>
<line x1="840.10" y1="921.30" x2="851.70" y2="912.10" stroke="#000" stroke-width="2.7" />
<line x1="896.30" y1="995.60" x2="907.90" y2="986.80" stroke="#000" stroke-width="2.7" />
<text transform="translate(703.87 975.80) scale(1.0041 1.06)" font-family="Liberation Sans" font-size="21.00" fill="#000" >Ribosome–RNAP</text>
<text transform="translate(704.69 1000.30) scale(1.0340 1.06)" font-family="Liberation Sans" font-size="21.00" fill="#000" >distance</text>
<text transform="translate(918.24 938.90) scale(0.9463 1.06)" font-family="Liberation Sans" font-size="22.50" font-style="italic" fill="#000" >v</text>
<text transform="translate(929.81 946.90) scale(0.9051 1.06)" font-family="Liberation Sans" font-size="14.50" fill="#000" >TX</text>
<line x1="911.20" y1="950.70" x2="960.00" y2="950.70" stroke="#c58cc2" stroke-width="2.7" />
<polygon points="957.00,941.90 968.90,951.00 957.00,960.00 959.50,950.80" fill="#c58cc2" stroke="none" stroke-width="0" />
<text transform="translate(858.66 1047.00) scale(1.0105 1.06)" font-family="Liberation Sans" font-size="21.00" fill="#c790c2" >RNAP</text>
<line x1="1105.40" y1="774.70" x2="1105.40" y2="840.10" stroke="#000" stroke-width="2.1" />
<line x1="1100.00" y1="774.70" x2="1105.40" y2="774.70" stroke="#000" stroke-width="2.1" />
<line x1="1100.00" y1="799.20" x2="1105.40" y2="799.20" stroke="#000" stroke-width="2.1" />
<line x1="1100.00" y1="840.10" x2="1386.20" y2="840.10" stroke="#000" stroke-width="2.1" />
<rect x="1107.40" y="838.60" width="11.30" height="1.50" fill="#808080" />
<rect x="1121.38" y="798.90" width="11.30" height="41.20" fill="#808080" />
<rect x="1135.36" y="798.90" width="11.30" height="41.20" fill="#808080" />
<rect x="1149.34" y="797.10" width="11.30" height="43.00" fill="#808080" />
<rect x="1163.32" y="803.60" width="11.30" height="36.50" fill="#808080" />
<rect x="1177.30" y="804.20" width="11.30" height="35.90" fill="#808080" />
<rect x="1191.28" y="801.50" width="11.30" height="38.60" fill="#808080" />
<rect x="1205.26" y="803.60" width="11.30" height="36.50" fill="#808080" />
<rect x="1219.24" y="815.90" width="11.30" height="24.20" fill="#808080" />
<rect x="1233.22" y="815.90" width="11.30" height="24.20" fill="#808080" />
<rect x="1247.20" y="818.90" width="11.30" height="21.20" fill="#808080" />
<rect x="1261.18" y="823.60" width="11.30" height="16.50" fill="#808080" />
<rect x="1275.16" y="833.90" width="11.30" height="6.20" fill="#808080" />
<rect x="1289.14" y="834.50" width="11.30" height="5.60" fill="#808080" />
<rect x="1303.12" y="836.80" width="11.30" height="3.30" fill="#808080" />
<rect x="1317.10" y="836.80" width="11.30" height="3.30" fill="#808080" />
<rect x="1331.08" y="838.30" width="11.30" height="1.80" fill="#808080" />
<text transform="translate(1070.17 806.40) scale(1 1.06)" font-family="Liberation Sans" font-size="20.00" fill="#000" >0.1</text>
<text transform="translate(1086.66 847.30) scale(1 1.06)" font-family="Liberation Sans" font-size="20.00" fill="#000" >0</text>
<text transform="translate(1032.30 858.70) rotate(-90) scale(0.9996 1.06)" x="-1.76" y="0" font-family="Liberation Sans" font-size="21.50" fill="#000" >Fraction of</text>
<text transform="translate(1055.20 840.90) rotate(-90) scale(0.9946 1.06)" x="-0.89" y="0" font-family="Liberation Sans" font-size="21.20" fill="#000" >genes</text>
<line x1="1105.40" y1="846.80" x2="1105.40" y2="1029.60" stroke="#000" stroke-width="2.1" />
<line x1="1099.00" y1="1020.30" x2="1386.20" y2="1020.30" stroke="#000" stroke-width="2.1" />
<line x1="1099.00" y1="882.20" x2="1105.40" y2="882.20" stroke="#000" stroke-width="2.1" />
<line x1="1099.00" y1="916.60" x2="1105.40" y2="916.60" stroke="#000" stroke-width="2.1" />
<line x1="1099.00" y1="951.30" x2="1105.40" y2="951.30" stroke="#000" stroke-width="2.1" />
<line x1="1099.00" y1="986.10" x2="1105.40" y2="986.10" stroke="#000" stroke-width="2.1" />
<line x1="1161.20" y1="1020.30" x2="1161.20" y2="1029.60" stroke="#000" stroke-width="2.1" />
<line x1="1217.70" y1="1020.30" x2="1217.70" y2="1029.60" stroke="#000" stroke-width="2.1" />
<line x1="1273.50" y1="1020.30" x2="1273.50" y2="1029.60" stroke="#000" stroke-width="2.1" />
<line x1="1329.50" y1="1020.30" x2="1329.50" y2="1029.60" stroke="#000" stroke-width="2.1" />
<text transform="translate(1062.41 889.40) scale(1 1.06)" font-family="Liberation Sans" font-size="20.00" fill="#000" >800</text>
<text transform="translate(1062.41 923.80) scale(1 1.06)" font-family="Liberation Sans" font-size="20.00" fill="#000" >600</text>
<text transform="translate(1062.41 958.50) scale(1 1.06)" font-family="Liberation Sans" font-size="20.00" fill="#000" >400</text>
<text transform="translate(1062.41 993.30) scale(1 1.06)" font-family="Liberation Sans" font-size="20.00" fill="#000" >200</text>
<text transform="translate(1084.66 1027.90) scale(1 1.06)" font-family="Liberation Sans" font-size="20.00" fill="#000" >0</text>
<text transform="translate(1100.82 1049.40) scale(0.9937 1.06)" font-family="Liberation Sans" font-size="20.00" fill="#000" >0</text>
<text transform="translate(1199.04 1049.40) scale(1.0263 1.06)" font-family="Liberation Sans" font-size="20.00" fill="#000" >1,000</text>
<text transform="translate(1308.28 1049.40) scale(1.0153 1.06)" font-family="Liberation Sans" font-size="20.00" fill="#000" >2,000</text>
<text transform="translate(1158.05 1071.80) scale(1.0195 1.06)" font-family="Liberation Sans" font-size="20.50" fill="#000" >Gene length (bp)</text>
<line x1="1105.40" y1="1020.30" x2="1386.20" y2="866.00" stroke="#000" stroke-width="2.6" />
<text transform="translate(1033.50 1038.00) rotate(-90) scale(0.9999 1.06)" x="-1.76" y="0" font-family="Liberation Sans" font-size="21.40" fill="#000" >Ribosome–RNAP</text>
<text transform="translate(1055.60 1020.30) rotate(-90) scale(1.0012 1.06)" x="-0.90" y="0" font-family="Liberation Sans" font-size="21.50" fill="#000" >distance (nt)</text>
</svg></body></html>
